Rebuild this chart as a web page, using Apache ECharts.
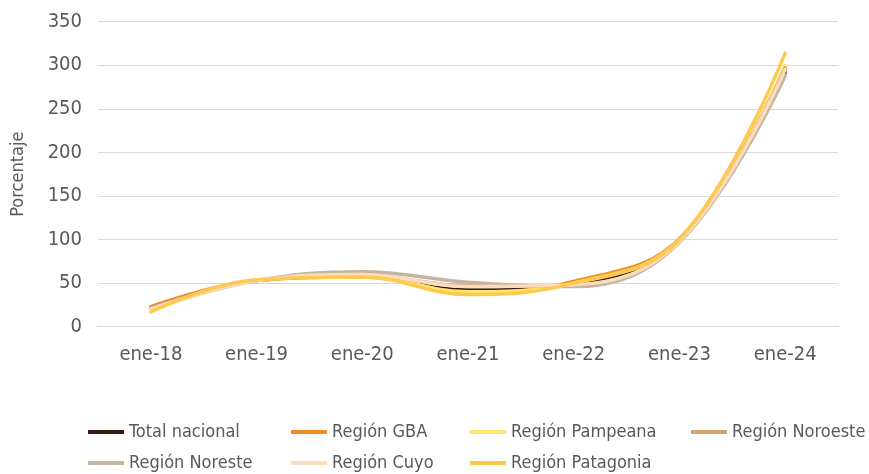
<!DOCTYPE html>
<html>
<head>
<meta charset="utf-8">
<script src="https://cdn.jsdelivr.net/npm/echarts@6/dist/echarts.min.js"></script>
<style>
html,body{margin:0;padding:0;background:#fff;}
#c{width:869px;height:474px;}
</style>
</head>
<body>
<div id="c"></div>
<script>
const categories = ['ene-18','ene-19','ene-20','ene-21','ene-22','ene-23','ene-24'];
const yTicks = [0,50,100,150,200,250,300,350];
const seriesNames = ['Total nacional','Región GBA','Región Pampeana','Región Noroeste','Región Noreste','Región Cuyo','Región Patagonia'];
const totalNacional   = [21, 53, 58, 42, 49, 100, 292];
const regionGBA       = [23, 53, 57, 40, 52, 101, 296];
const regionPampeana  = [19, 53, 58, 40, 50, 100, 300];
const regionNoroeste  = [21, 53, 59, 47, 47, 98, 297];
const regionNoreste   = [21, 53, 63, 51, 46, 97, 288];
const regionCuyo      = [20, 53, 60, 46, 48, 98, 295];
const regionPatagonia = [17, 54, 57, 37, 50, 100, 314];
const values = [totalNacional, regionGBA, regionPampeana, regionNoroeste, regionNoreste, regionCuyo, regionPatagonia];
const colors = ['#3b1a14','#f08a1e','#fde86e','#d5a373','#c5b5a0','#fcdcbc','#fdc94e'];

const FONT = '"Liberation Sans Narrow","DejaVu Sans Condensed","Roboto",sans-serif';
const TXT = '#595959';

const legendPos = [
  {left: 88, top: 423}, {left: 291, top: 423}, {left: 470, top: 423}, {left: 691, top: 423},
  {left: 88, top: 454}, {left: 291, top: 454}, {left: 470, top: 454}
];

const chart = echarts.init(document.getElementById('c'));
chart.setOption({
  animation: false,
  color: colors,
  grid: {left: 98, right: 31, top: 21.7, bottom: 147.3, containLabel: false},
  legend: seriesNames.map((n, i) => ({
    data: [n],
    left: legendPos[i].left,
    top: legendPos[i].top,
    icon: 'rect',
    itemWidth: 36,
    itemHeight: 4,
    itemGap: 8,
    padding: 0,
    textStyle: {fontFamily: FONT, fontSize: 18, color: TXT}
  })),
  xAxis: {
    type: 'category',
    data: categories,
    boundaryGap: true,
    axisLine: {show: true, lineStyle: {color: '#d9d9d9', width: 1}},
    axisTick: {show: false},
    axisLabel: {fontFamily: FONT, fontSize: 20, color: TXT, margin: 18}
  },
  yAxis: {
    type: 'value',
    min: yTicks[0],
    max: yTicks[yTicks.length - 1],
    interval: yTicks[1] - yTicks[0],
    name: 'Porcentaje',
    nameLocation: 'middle',
    nameGap: 71,
    nameTextStyle: {fontFamily: FONT, fontSize: 18, color: TXT},
    axisLine: {show: false},
    axisTick: {show: false},
    splitLine: {lineStyle: {color: '#d9d9d9', width: 1}},
    axisLabel: {fontFamily: FONT, fontSize: 20, color: TXT, margin: 16}
  },
  series: seriesNames.map((n, i) => ({
    name: n,
    type: 'line',
    data: values[i],
    smooth: 0.4,
    showSymbol: false,
    symbol: 'none',
    lineStyle: {width: 3.5, color: colors[i], cap: 'round'}
  }))
});
</script>
</body>
</html>
